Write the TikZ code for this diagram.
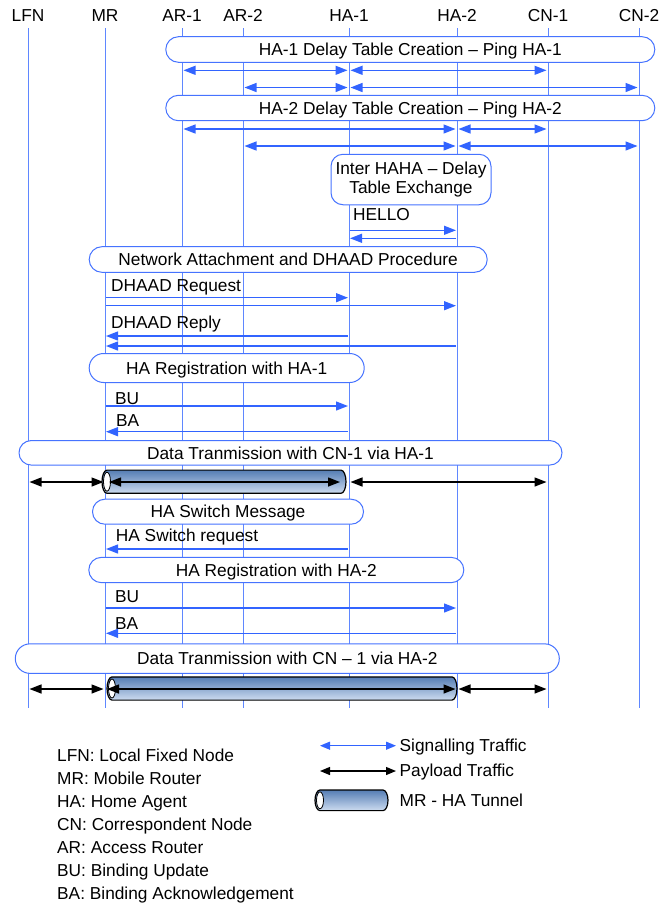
\documentclass[tikz,border=0pt]{standalone}
\usepackage{fontspec}
\setmainfont{Liberation Sans}
\usetikzlibrary{arrows.meta}
\definecolor{life}{RGB}{95,135,255}
\definecolor{sigc}{RGB}{50,100,255}
\definecolor{boxc}{RGB}{70,115,255}
\definecolor{tubetop}{RGB}{85,125,180}
\definecolor{tubebot}{RGB}{205,220,240}
\newcommand\tubeshape[4]{%
  \path[draw=black, line width=1.2pt, top color=tubetop, bottom color=tubebot]
    (#1,{#3-#4}) -- ({#2-5},{#3-#4})
    arc[start angle=90, end angle=-90, x radius=5pt, y radius=#4pt]
    -- (#1,{#3+#4})
    arc[start angle=270, end angle=90, x radius=5pt, y radius=#4pt] -- cycle;
  \draw[fill=white, draw=black, line width=0.8pt] (#1,#3) ellipse[x radius=3.5pt, y radius=#4pt*0.82];
}
\begin{document}
\begin{tikzpicture}[x=1pt, y=-1pt, font=\fontsize{17.3}{19.5}\selectfont,
  hdr/.style={inner sep=0pt, text height=12.4pt, text depth=0pt},
  lifeln/.style={draw=life, line width=1pt},
  pill/.style={draw=boxc, fill=white, line width=1pt, inner sep=0pt, text height=12.4pt, text depth=0pt},
  sig/.style={draw=sigc, line width=1.3pt, -{Triangle[length=12pt, width=9pt]}, shorten >=1pt, shorten <=1pt},
  sigboth/.style={draw=sigc, line width=1.3pt, {Triangle[length=12pt, width=9pt]}-{Triangle[length=12pt, width=9pt]}, shorten >=1.5pt, shorten <=1.5pt},
  pay/.style={draw=black, line width=1.4pt, {Triangle[length=12pt, width=9pt]}-{Triangle[length=12pt, width=9pt]}, shorten >=1.5pt, shorten <=1.5pt},
  lbl/.style={anchor=west, inner sep=0pt, text height=12.4pt, text depth=0pt},
]
\useasboundingbox (0,0) rectangle (670,906);

% headers
\node[hdr] (lfn) at (28,15) {LFN};
\node[hdr] (mr)  at (105,15) {MR};
\node[hdr] (ar1) at (182,15) {AR-1};
\node[hdr] (ar2) at (243,15) {AR-2};
\node[hdr] (ha1) at (349,15) {HA-1};
\node[hdr] (ha2) at (457,15) {HA-2};
\node[hdr] (cn1) at (548,15) {CN-1};
\node[hdr] (cn2) at (639,15) {CN-2};

\coordinate (top) at (0,28);
\coordinate (bot) at (0,708);
\foreach \n in {lfn,mr,ar1,ar2,ha1,ha2,cn1,cn2}
  \draw[lifeln] (\n |- top) -- (\n |- bot);

% row coordinates
\coordinate (r1) at (0,70.3);
\coordinate (r2) at (0,87.5);
\coordinate (r3) at (0,129);
\coordinate (r4) at (0,146);
\coordinate (h1) at (0,230.3);
\coordinate (h2) at (0,238.3);
\coordinate (d1) at (0,297.7);
\coordinate (d2) at (0,305.7);
\coordinate (d3) at (0,336);
\coordinate (d4) at (0,346);
\coordinate (u1) at (0,406);
\coordinate (a1) at (0,431.7);
\coordinate (p1) at (0,482);
\coordinate (s1) at (0,549);
\coordinate (u2) at (0,608);
\coordinate (a2) at (0,633.3);
\coordinate (p2) at (0,689);

% boxes
\node[pill, minimum width=489pt, minimum height=25.6pt, rounded corners=12.7pt] (b1) at (410.3,49.5) {HA-1 Delay Table Creation – Ping HA-1};
\node[pill, minimum width=489pt, minimum height=25.4pt, rounded corners=12.6pt] (b2) at (410.3,108) {HA-2 Delay Table Creation – Ping HA-2};
\node[draw=boxc, fill=white, line width=1pt, inner sep=0pt, minimum width=160pt, minimum height=50.5pt, rounded corners=12pt, align=center] (b3) at (411,179.5) {Inter HAHA – Delay\\Table Exchange};
\node[pill, minimum width=398pt, minimum height=25.6pt, rounded corners=12.7pt] (b4) at (288.2,259.5) {Network Attachment and DHAAD Procedure};
\node[pill, minimum width=275pt, minimum height=29pt, rounded corners=14.4pt] (b5) at (226.7,368) {HA Registration with HA-1};
\node[pill, minimum width=543pt, minimum height=24.5pt, rounded corners=12.2pt] (b6) at (290.5,452.8) {Data Tranmission with CN-1 via HA-1};
\node[pill, minimum width=271pt, minimum height=25pt, rounded corners=12.4pt] (b7) at (228,511.7) {HA Switch Message};
\node[pill, minimum width=375pt, minimum height=25.3pt, rounded corners=12.6pt] (b8) at (276.3,570) {HA Registration with HA-2};
\node[pill, minimum width=544pt, minimum height=29.5pt, rounded corners=14.7pt] (b9) at (287.3,658.6) {Data Tranmission with CN – 1 via HA-2};

% ping arrows
\draw[sigboth] (ar1 |- r1) -- (ha1 |- r1);
\draw[sigboth] (ha1 |- r1) -- (cn1 |- r1);
\draw[sigboth] (ar2 |- r2) -- (ha1 |- r2);
\draw[sigboth] (ha1 |- r2) -- (cn2 |- r2);
\draw[sigboth] (ar1 |- r3) -- (ha2 |- r3);
\draw[sigboth] (ha2 |- r3) -- (cn1 |- r3);
\draw[sigboth] (ar2 |- r4) -- (ha2 |- r4);
\draw[sigboth] (ha2 |- r4) -- (cn2 |- r4);

% hello
\node[lbl] (lhello) at (353,214) {HELLO};
\draw[sig] (ha1 |- h1) -- (ha2 |- h1);
\draw[sig] (ha2 |- h2) -- (ha1 |- h2);

% DHAAD
\node[lbl] (ldreq) at (111,285) {DHAAD Request};
\draw[sig] (mr |- d1) -- (ha1 |- d1);
\draw[sig] (mr |- d2) -- (ha2 |- d2);
\node[lbl] (ldrep) at (111,322.7) {DHAAD Reply};
\draw[sig] (ha1 |- d3) -- (mr |- d3);
\draw[sig] (ha2 |- d4) -- (mr |- d4);

% registration HA-1
\node[lbl] (lbu1) at (115,398.3) {BU};
\draw[sig] (mr |- u1) -- (ha1 |- u1);
\node[lbl] (lba1) at (116,420.5) {BA};
\draw[sig] (ha1 |- a1) -- (mr |- a1);

% data via HA-1
\draw[pay] (lfn |- p1) -- (mr |- p1);
\tubeshape{107}{346}{481.7}{11.6}
\draw[pay, shorten <=4pt, shorten >=9pt] (mr |- p1) -- (ha1 |- p1);
\draw[pay] (ha1 |- p1) -- (cn1 |- p1);

% HA switch
\node[lbl] (lsw) at (115.7,535) {HA Switch request};
\draw[sig] (ha1 |- s1) -- (mr |- s1);

% registration HA-2
\node[lbl] (lbu2) at (115,596) {BU};
\draw[sig] (mr |- u2) -- (ha2 |- u2);
\node[lbl] (lba2) at (115,623) {BA};
\draw[sig] (ha2 |- a2) -- (mr |- a2);

% data via HA-2
\draw[pay] (lfn |- p2) -- (mr |- p2);
\tubeshape{112}{457}{688.5}{11.6}
\draw[pay, shorten <=2pt] (mr |- p2) -- (ha2 |- p2);
\draw[pay] (ha2 |- p2) -- (cn1 |- p2);

% legend
\node[lbl] (g1) at (57,755) {LFN: Local Fixed Node};
\node[lbl] (g2) at (57,778.5) {MR: Mobile Router};
\node[lbl] (g3) at (57,801.5) {HA: Home Agent};
\node[lbl] (g4) at (57,824.5) {CN: Correspondent Node};
\node[lbl] (g5) at (57,847.5) {AR: Access Router};
\node[lbl] (g6) at (57,870.5) {BU: Binding Update};
\node[lbl] (g7) at (57,893.5) {BA: Binding Acknowledgement};

\coordinate (ls1) at (320,745.7);
\coordinate (ls2) at (396,745.7);
\coordinate (lp1) at (320,771);
\coordinate (lp2) at (396,771);
\draw[draw=sigc, line width=1.2pt, {Triangle[length=10pt, width=8pt]}-{Triangle[length=10pt, width=8pt]}] (ls1) -- (ls2);
\draw[draw=black, line width=1.2pt, {Triangle[length=10pt, width=8pt]}-{Triangle[length=10pt, width=8pt]}] (lp1) -- (lp2);
\node[lbl] (t1) at (399.5,745.5) {Signalling Traffic};
\node[lbl] (t2) at (399.5,770.5) {Payload Traffic};
\tubeshape{320}{388}{800.3}{10.3}
\node[lbl] (t3) at (399.5,800.5) {MR - HA Tunnel};
\end{tikzpicture}
\end{document}
